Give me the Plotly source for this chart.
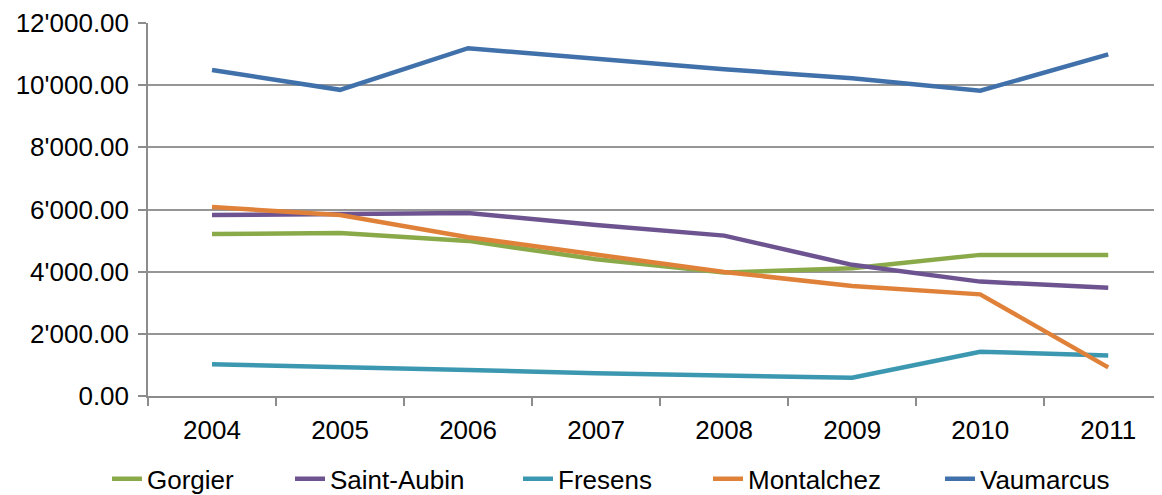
import plotly.graph_objects as go

years = ["2004", "2005", "2006", "2007", "2008", "2009", "2010", "2011"]
gorgier = [5210, 5245, 4990, 4400, 3970, 4110, 4540, 4540]
saint_aubin = [5820, 5850, 5890, 5500, 5160, 4220, 3680, 3485]
fresens = [1020, 945, 835, 730, 650, 590, 1425, 1300]
montalchez = [6080, 5820, 5110, 4550, 3990, 3540, 3270, 920]
vaumarcus = [10490, 9850, 11190, 10840, 10510, 10220, 9820, 10990]

series = [
    ("Gorgier", gorgier, "#8AAA4A"),
    ("Saint-Aubin", saint_aubin, "#6D5490"),
    ("Fresens", fresens, "#3C98B1"),
    ("Montalchez", montalchez, "#E0813A"),
    ("Vaumarcus", vaumarcus, "#4171AA"),
]

FONT = "Liberation Sans, Arial, sans-serif"
fig = go.Figure()
legend_names = ["legend", "legend2", "legend3", "legend4", "legend5"]
for (name, vals, color), lg in zip(series, legend_names):
    fig.add_trace(go.Scatter(x=years, y=vals, name=name, mode="lines",
                             line=dict(color=color, width=4.5),
                             legend=lg))

# page body has an 8px margin; figure coordinates are shifted accordingly
text_px = [147, 330, 558, 748, 980]
plot_left, plot_w = 148, 1014
legend_layout = {}
for lg, tx in zip(legend_names, text_px):
    legend_layout[lg] = dict(
        orientation="h", x=(tx - 40 - plot_left) / plot_w, xanchor="left",
        y=-0.222, yanchor="middle", bgcolor="rgba(0,0,0,0)",
        font=dict(family=FONT, size=26, color="#000000"))

fig.update_layout(
    width=1162, height=495,
    margin=dict(l=140, r=8, t=15, b=107, autoexpand=False),
    paper_bgcolor="white", plot_bgcolor="white",
    separators=".'",
    showlegend=True,
    font=dict(family=FONT, size=26, color="#000000"),
    **legend_layout,
)
fig.update_xaxes(
    type="category", range=[-0.5, 7.42],
    showgrid=False, showline=True, linecolor="#8C8C8C", linewidth=1.5,
    ticks="outside", tickson="boundaries", ticklen=8, tickcolor="#8C8C8C",
    tickwidth=1.5, ticklabelstandoff=10,
    tickfont=dict(family=FONT, size=26, color="#000000"),
)
fig.update_yaxes(
    range=[0, 12000], tickvals=[0, 2000, 4000, 6000, 8000, 10000, 12000],
    tickformat=",.2f",
    showgrid=True, gridcolor="#969696", gridwidth=1.5,
    showline=True, linecolor="#8C8C8C", linewidth=1.5,
    ticks="outside", ticklen=8, tickcolor="#8C8C8C", tickwidth=1.5,
    ticklabelstandoff=4,
    zeroline=False, tickfont=dict(family=FONT, size=26, color="#000000"),
)

fig.write_html("out.html")
